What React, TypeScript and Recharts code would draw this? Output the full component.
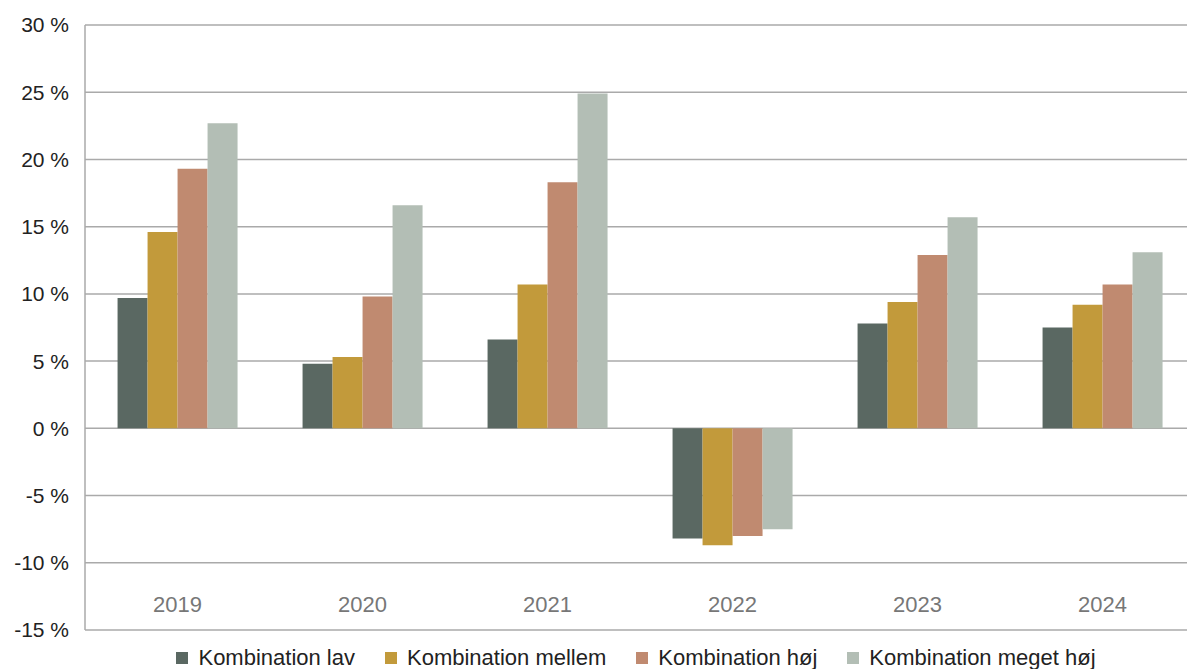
import React from "react";
import { BarChart, Bar, XAxis, YAxis, CartesianGrid, Legend } from "recharts";

const years = ["2019", "2020", "2021", "2022", "2023", "2024"];
const lav = [9.7, 4.8, 6.6, -8.2, 7.8, 7.5];
const mellem = [14.6, 5.3, 10.7, -8.7, 9.4, 9.2];
const hoej = [19.3, 9.8, 18.3, -8.0, 12.9, 10.7];
const megetHoej = [22.7, 16.6, 24.9, -7.5, 15.7, 13.1];
const yTicks = [-15, -10, -5, 0, 5, 10, 15, 20, 25, 30];

const seriesNames = ["Kombination lav", "Kombination mellem", "Kombination høj", "Kombination meget høj"];
const colors = ["#5a6862", "#c29a3b", "#c08a70", "#b3beb5"];
const keys = ["lav", "mellem", "hoej", "megetHoej"];

const data = years.map((y, i) => ({
  year: y,
  lav: lav[i],
  mellem: mellem[i],
  hoej: hoej[i],
  megetHoej: megetHoej[i],
}));

const FONT = "'Liberation Sans', Arial, sans-serif";

const XTick = (props: any) => {
  const { x, y, payload } = props;
  return (
    <text x={x} y={y - 34} textAnchor="middle" dominantBaseline="central" fill="#777" fontSize={22} fontFamily={FONT}>
      {payload.value}
    </text>
  );
};

const LegendContent = () => (
  <div style={{ display: "flex", justifyContent: "center", alignItems: "center", height: 22, fontFamily: FONT, fontSize: 22, color: "#222" }}>
    {seriesNames.map((n, i) => (
      <div key={n} style={{ display: "flex", alignItems: "center", marginRight: i < 3 ? 30 : 0 }}>
        <div style={{ width: 12, height: 12, background: colors[i], marginRight: 10 }} />
        <span>{n}</span>
      </div>
    ))}
  </div>
);

export default function App() {
  return (
    <div style={{ position: "absolute", left: 0, top: 0, width: 1187, height: 669, overflow: "hidden", background: "#fff" }}>
      <BarChart
        width={1195}
        height={669}
        data={data}
        margin={{ top: 25, right: 0, bottom: 0, left: 0 }}
        barCategoryGap="17.6%"
        barGap={0}
      >
        <CartesianGrid horizontal={true} vertical={false} stroke="#aaa" strokeWidth={1.5} />
        <XAxis dataKey="year" height={17} axisLine={false} tickLine={false} tick={<XTick />} interval={0} />
        <YAxis
          width={85}
          domain={[-15, 30]}
          ticks={yTicks}
          tickFormatter={(v: number) => `${v} %`}
          axisLine={{ stroke: "#aaa", strokeWidth: 1.5 }}
          tickLine={false}
          tickMargin={10}
          tick={{ fill: "#222", fontSize: 21, fontFamily: FONT }}
          interval={0}
        />
        <Legend verticalAlign="bottom" height={22} wrapperStyle={{ left: 85, width: 1102 }} content={<LegendContent />} />
        {keys.map((k, i) => (
          <Bar key={k} dataKey={k} name={seriesNames[i]} fill={colors[i]} isAnimationActive={false} />
        ))}
      </BarChart>
    </div>
  );
}
